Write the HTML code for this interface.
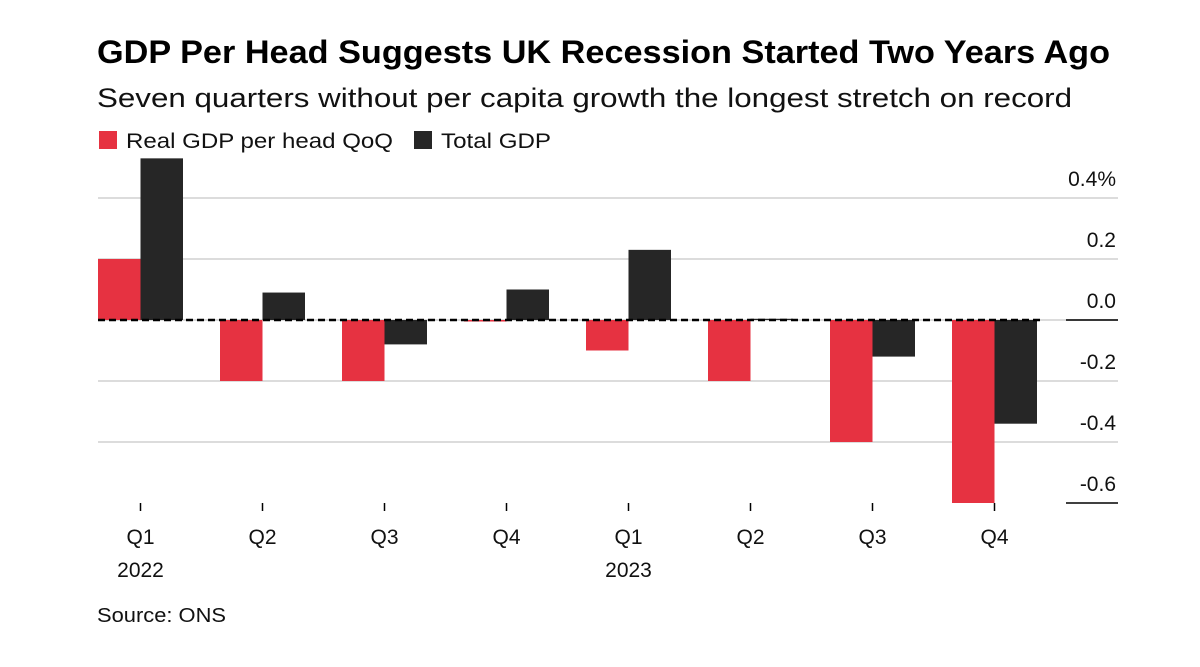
<!DOCTYPE html>
<html><head><meta charset="utf-8"><style>
body{margin:0;background:#fff;font-family:"Liberation Sans",sans-serif;}
</style></head><body>
<svg width="1200" height="662" viewBox="0 0 1200 662" id="c">
<text x="97" y="63" font-size="32" font-weight="bold" fill="#000" textLength="1013" lengthAdjust="spacingAndGlyphs">GDP Per Head Suggests UK Recession Started Two Years Ago</text>
<text x="97" y="107" font-size="27" fill="#111" textLength="975" lengthAdjust="spacingAndGlyphs">Seven quarters without per capita growth the longest stretch on record</text>
<g>
<rect x="99" y="131" width="18" height="18" fill="#e63241"/>
<text x="126" y="148" font-size="21" fill="#111" textLength="267" lengthAdjust="spacingAndGlyphs">Real GDP per head QoQ</text>
<rect x="414" y="131" width="18" height="18" fill="#262626"/>
<text x="441" y="148" font-size="21" fill="#111" textLength="110" lengthAdjust="spacingAndGlyphs">Total GDP</text>
</g>
<g id="grid"></g><g id="bars"></g><g id="axes"></g>
<text x="97" y="622" font-size="20" fill="#111" textLength="129" lengthAdjust="spacingAndGlyphs">Source: ONS</text>
</svg>
<script>
const categories=["Q1","Q2","Q3","Q4","Q1","Q2","Q3","Q4"];
const years=["2022","","","","2023","","",""];
const perHead=[0.2,-0.2,-0.2,-0.005,-0.1,-0.2,-0.4,-0.6];
const totalGdp=[0.53,0.09,-0.08,0.1,0.23,0.004,-0.12,-0.34];
const ticks=[0.4,0.2,0.0,-0.2,-0.4,-0.6];
const tickLabels=["0.4%","0.2","0.0","-0.2","-0.4","-0.6"];
const NS="http://www.w3.org/2000/svg";
const y=v=>320-v*305;
const xc=i=>140.5+i*122;
const bw=42.5;
function mk(t,a,p){const e=document.createElementNS(NS,t);for(const k in a)e.setAttribute(k,a[k]);p.appendChild(e);return e;}
const grid=document.getElementById('grid'),bars=document.getElementById('bars'),axes=document.getElementById('axes');
ticks.forEach((t,i)=>{
  const yy=y(t);
  if(t===-0.6){
    const l=mk('line',{x1:1066,x2:1118,y1:yy,y2:yy,stroke:'#000','stroke-width':1.5},axes);
    
    
  } else {
    const l=mk('line',{x1:98,x2:1118,y1:yy,y2:yy,stroke:'#dcdcdc','stroke-width':2},grid);
    
    
  }
  const tx=mk('text',{x:1116,y:yy-12,'font-size':21,'text-anchor':'end',fill:'#111'},axes);
  tx.textContent=tickLabels[i];
  
  
});
categories.forEach((c,i)=>{
  const a=perHead[i],b=totalGdp[i];
  const r=mk('rect',{x:xc(i)-bw,y:Math.min(y(a),y(0)),width:bw,height:Math.max(Math.abs(y(a)-y(0)),0.8),fill:'#e63241'},bars);
  
  
  const k=mk('rect',{x:xc(i),y:Math.min(y(b),y(0)),width:bw,height:Math.max(Math.abs(y(b)-y(0)),0.8),fill:'#262626'},bars);
  
  
  const tk=mk('line',{x1:xc(i),x2:xc(i),y1:503,y2:511,stroke:'#000','stroke-width':1.5},axes);
  
  
  const t=mk('text',{x:xc(i),y:544,'font-size':21,'text-anchor':'middle',fill:'#111'},axes);
  t.textContent=c;
  
  
  if(years[i]){
    const yt=mk('text',{x:xc(i),y:577,'font-size':21,'text-anchor':'middle',fill:'#111'},axes);
    yt.textContent=years[i];
    
    
  }
});
const z=mk('line',{x1:98,x2:1042,y1:y(0),y2:y(0),stroke:'#000','stroke-width':2.5,'stroke-dasharray':'7 4'},axes);


const z2=mk('line',{x1:1066,x2:1118,y1:y(0),y2:y(0),stroke:'#000','stroke-width':1.5},axes);


</script>
</body></html>
